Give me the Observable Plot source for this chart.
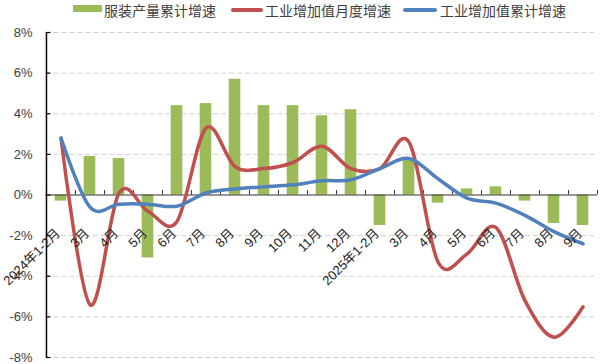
<!DOCTYPE html>
<html><head><meta charset="utf-8">
<script src="https://cdn.jsdelivr.net/npm/d3@7"></script>
<script src="https://cdn.jsdelivr.net/npm/@observablehq/plot@0.6"></script>
<style>
body{margin:0;background:#fff;font-family:"Liberation Sans","Noto Sans CJK SC",sans-serif;}
#legend{position:relative;height:20px;width:600px;font-size:14px;color:#404040;}
#legend .sw{position:absolute;}
#legend .tx{position:absolute;top:1px;line-height:18px;white-space:nowrap;font-family:"Noto Sans CJK SC",sans-serif;}
#chart svg{display:block;}
</style></head><body>
<div id="legend"></div>
<div id="chart"></div>
<script>
const categories = ["2024年1-2月","3月","4月","5月","6月","7月","8月","9月","10月","11月","12月","2025年1-2月","3月","4月","5月","6月","7月","8月","9月"];
const apparelOutput = [-0.3, 1.9, 1.8, -3.1, 4.4, 4.5, 5.7, 4.4, 4.4, 3.9, 4.2, -1.5, 1.8, -0.4, 0.3, 0.4, -0.3, -1.4, -1.5];
const iavMonthly = [2.8, -5.4, 0.1, -0.8, -1.3, 3.3, 1.4, 1.3, 1.6, 2.4, 1.3, 1.3, 2.6, -3.3, -2.9, -1.6, -5.2, -7.0, -5.5];
const iavCumulative = [2.8, -0.6, -0.45, -0.45, -0.55, 0.1, 0.3, 0.4, 0.5, 0.7, 0.75, 1.3, 1.8, 0.8, -0.15, -0.4, -1.0, -1.8, -2.4];
const yTicks = [-8, -6, -4, -2, 0, 2, 4, 6, 8];
const seriesNames = ["服装产量累计增速", "工业增加值月度增速", "工业增加值累计增速"];
const colors = ["#9BBB59", "#C0504D", "#4F81BD"];

// legend
const legend = document.getElementById("legend");
const legendItems = [
  {sw: {left: 73, top: 5, width: 29, height: 7}, tx: 104},
  {sw: {left: 231, top: 8, width: 32, height: 3.5}, tx: 265},
  {sw: {left: 403, top: 8, width: 34, height: 3.5}, tx: 440}
];
legendItems.forEach((it, i) => {
  const s = document.createElement("div");
  s.className = "sw";
  Object.assign(s.style, {left: it.sw.left + "px", top: it.sw.top + "px", width: it.sw.width + "px", height: it.sw.height + "px", background: colors[i], borderRadius: i ? "2px" : "0"});
  legend.appendChild(s);
  const t = document.createElement("div");
  t.className = "tx";
  t.style.left = it.tx + "px";
  t.textContent = seriesNames[i];
  legend.appendChild(t);
});

const data = categories.map((c, i) => ({i, label: c, apparel: apparelOutput[i], monthly: iavMonthly[i], cumulative: iavCumulative[i]}));
const W = 600, ML = 45, MR = 3;
const bw = (W - ML - MR) / categories.length;

const chart = Plot.plot({
  width: W, height: 344,
  marginLeft: ML, marginRight: MR, marginTop: 12, marginBottom: 7,
  style: {fontFamily: '"Liberation Sans","Noto Sans CJK SC",sans-serif', background: "#fff"},
  x: {type: "band", domain: d3.range(categories.length), padding: 0, axis: null},
  y: {domain: [-8, 8], axis: null},
  marks: [
    Plot.ruleY(yTicks.filter(d => d !== 0), {y: d => d, stroke: "#D0D0D0", strokeDasharray: "5,3", strokeWidth: 1}),
    Plot.barY(data, {x: "i", y: "apparel", fill: colors[0], insetLeft: 8.7, insetRight: 8.7}),
    Plot.ruleY([0], {stroke: "#333", strokeWidth: 1.2}),
    Plot.ruleX(d3.range(categories.length), {x: d => d, y1: 0, y2: 0.22, dx: -bw / 2, stroke: "#333", strokeWidth: 1}),
    Plot.ruleX([categories.length - 1], {x: d => d, y1: 0, y2: 0.22, dx: bw / 2, stroke: "#333", strokeWidth: 1}),
    Plot.ruleX([0], {x: d => d, y1: -8, y2: 8, dx: -bw / 2, stroke: "#000", strokeWidth: 1.5}),
    Plot.tickY(yTicks, {y: d => d, x: () => 0, insetRight: bw - 4.5, stroke: "#000", strokeWidth: 1.2}),
    Plot.text(yTicks, {y: d => d, x: () => 0, dx: -bw / 2 - 14, text: d => d + "%", textAnchor: "end", fontSize: 13, fill: "#404040"}),
    Plot.line(data, {x: "i", y: "monthly", curve: "cardinal", stroke: colors[1], strokeWidth: 3.5}),
    Plot.line(data, {x: "i", y: "cumulative", curve: "cardinal", stroke: colors[2], strokeWidth: 3.5}),
    Plot.text(data, {x: "i", y: () => 0, dy: 36, dx: -3, text: "label", rotate: -45, textAnchor: "end", fontSize: 13, fill: "#222"})
  ]
});
document.getElementById("chart").appendChild(chart);
</script>
</body></html>
